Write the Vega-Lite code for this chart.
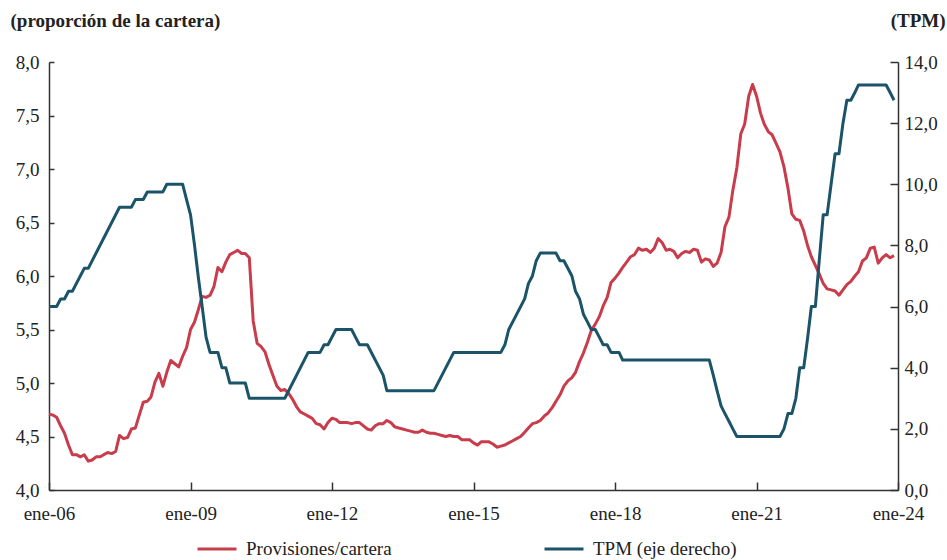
{
"$schema": "https://vega.github.io/schema/vega-lite/v6.json",
"width": 849, "height": 428,
"autosize": {"type": "none"},
"padding": {"left": 49, "top": 62, "right": 49, "bottom": 70},
"background": "white",
"config": {
 "view": {"stroke": null},
 "font": "Liberation Serif",
 "axis": {"labelFont": "Liberation Serif", "labelFontSize": 19, "labelColor": "#222", "titleFont": "Liberation Serif", "titleFontSize": 19, "titleFontWeight": "bold", "titleColor": "#222", "domainColor": "#333", "domainWidth": 1.5, "tickColor": "#333", "tickWidth": 1.5, "grid": false},
 "legend": {"labelFont": "Liberation Serif", "labelFontSize": 19, "labelColor": "#222"}
},
"datasets": {
"prov": [
{"fecha":"2006-01-01","valor":4.71,"serie":"Provisiones/cartera"},{"fecha":"2006-02-01","valor":4.70,"serie":"Provisiones/cartera"},{"fecha":"2006-03-01","valor":4.68,"serie":"Provisiones/cartera"},{"fecha":"2006-04-01","valor":4.60,"serie":"Provisiones/cartera"},{"fecha":"2006-05-01","valor":4.53,"serie":"Provisiones/cartera"},{"fecha":"2006-06-01","valor":4.42,"serie":"Provisiones/cartera"},{"fecha":"2006-07-01","valor":4.33,"serie":"Provisiones/cartera"},{"fecha":"2006-08-01","valor":4.33,"serie":"Provisiones/cartera"},{"fecha":"2006-09-01","valor":4.31,"serie":"Provisiones/cartera"},{"fecha":"2006-10-01","valor":4.33,"serie":"Provisiones/cartera"},{"fecha":"2006-11-01","valor":4.27,"serie":"Provisiones/cartera"},{"fecha":"2006-12-01","valor":4.28,"serie":"Provisiones/cartera"},
{"fecha":"2007-01-01","valor":4.31,"serie":"Provisiones/cartera"},{"fecha":"2007-02-01","valor":4.31,"serie":"Provisiones/cartera"},{"fecha":"2007-03-01","valor":4.33,"serie":"Provisiones/cartera"},{"fecha":"2007-04-01","valor":4.35,"serie":"Provisiones/cartera"},{"fecha":"2007-05-01","valor":4.34,"serie":"Provisiones/cartera"},{"fecha":"2007-06-01","valor":4.36,"serie":"Provisiones/cartera"},{"fecha":"2007-07-01","valor":4.51,"serie":"Provisiones/cartera"},{"fecha":"2007-08-01","valor":4.48,"serie":"Provisiones/cartera"},{"fecha":"2007-09-01","valor":4.49,"serie":"Provisiones/cartera"},{"fecha":"2007-10-01","valor":4.57,"serie":"Provisiones/cartera"},{"fecha":"2007-11-01","valor":4.58,"serie":"Provisiones/cartera"},{"fecha":"2007-12-01","valor":4.70,"serie":"Provisiones/cartera"},
{"fecha":"2008-01-01","valor":4.82,"serie":"Provisiones/cartera"},{"fecha":"2008-02-01","valor":4.83,"serie":"Provisiones/cartera"},{"fecha":"2008-03-01","valor":4.87,"serie":"Provisiones/cartera"},{"fecha":"2008-04-01","valor":5.01,"serie":"Provisiones/cartera"},{"fecha":"2008-05-01","valor":5.09,"serie":"Provisiones/cartera"},{"fecha":"2008-06-01","valor":4.97,"serie":"Provisiones/cartera"},{"fecha":"2008-07-01","valor":5.10,"serie":"Provisiones/cartera"},{"fecha":"2008-08-01","valor":5.21,"serie":"Provisiones/cartera"},{"fecha":"2008-09-01","valor":5.18,"serie":"Provisiones/cartera"},{"fecha":"2008-10-01","valor":5.15,"serie":"Provisiones/cartera"},{"fecha":"2008-11-01","valor":5.25,"serie":"Provisiones/cartera"},{"fecha":"2008-12-01","valor":5.33,"serie":"Provisiones/cartera"},
{"fecha":"2009-01-01","valor":5.50,"serie":"Provisiones/cartera"},{"fecha":"2009-02-01","valor":5.57,"serie":"Provisiones/cartera"},{"fecha":"2009-03-01","valor":5.68,"serie":"Provisiones/cartera"},{"fecha":"2009-04-01","valor":5.81,"serie":"Provisiones/cartera"},{"fecha":"2009-05-01","valor":5.80,"serie":"Provisiones/cartera"},{"fecha":"2009-06-01","valor":5.82,"serie":"Provisiones/cartera"},{"fecha":"2009-07-01","valor":5.90,"serie":"Provisiones/cartera"},{"fecha":"2009-08-01","valor":6.08,"serie":"Provisiones/cartera"},{"fecha":"2009-09-01","valor":6.04,"serie":"Provisiones/cartera"},{"fecha":"2009-10-01","valor":6.13,"serie":"Provisiones/cartera"},{"fecha":"2009-11-01","valor":6.20,"serie":"Provisiones/cartera"},{"fecha":"2009-12-01","valor":6.22,"serie":"Provisiones/cartera"},
{"fecha":"2010-01-01","valor":6.24,"serie":"Provisiones/cartera"},{"fecha":"2010-02-01","valor":6.21,"serie":"Provisiones/cartera"},{"fecha":"2010-03-01","valor":6.21,"serie":"Provisiones/cartera"},{"fecha":"2010-04-01","valor":6.17,"serie":"Provisiones/cartera"},{"fecha":"2010-05-01","valor":5.58,"serie":"Provisiones/cartera"},{"fecha":"2010-06-01","valor":5.37,"serie":"Provisiones/cartera"},{"fecha":"2010-07-01","valor":5.34,"serie":"Provisiones/cartera"},{"fecha":"2010-08-01","valor":5.29,"serie":"Provisiones/cartera"},{"fecha":"2010-09-01","valor":5.17,"serie":"Provisiones/cartera"},{"fecha":"2010-10-01","valor":5.07,"serie":"Provisiones/cartera"},{"fecha":"2010-11-01","valor":4.97,"serie":"Provisiones/cartera"},{"fecha":"2010-12-01","valor":4.93,"serie":"Provisiones/cartera"},
{"fecha":"2011-01-01","valor":4.94,"serie":"Provisiones/cartera"},{"fecha":"2011-02-01","valor":4.90,"serie":"Provisiones/cartera"},{"fecha":"2011-03-01","valor":4.85,"serie":"Provisiones/cartera"},{"fecha":"2011-04-01","valor":4.78,"serie":"Provisiones/cartera"},{"fecha":"2011-05-01","valor":4.73,"serie":"Provisiones/cartera"},{"fecha":"2011-06-01","valor":4.71,"serie":"Provisiones/cartera"},{"fecha":"2011-07-01","valor":4.69,"serie":"Provisiones/cartera"},{"fecha":"2011-08-01","valor":4.67,"serie":"Provisiones/cartera"},{"fecha":"2011-09-01","valor":4.62,"serie":"Provisiones/cartera"},{"fecha":"2011-10-01","valor":4.61,"serie":"Provisiones/cartera"},{"fecha":"2011-11-01","valor":4.57,"serie":"Provisiones/cartera"},{"fecha":"2011-12-01","valor":4.63,"serie":"Provisiones/cartera"},
{"fecha":"2012-01-01","valor":4.67,"serie":"Provisiones/cartera"},{"fecha":"2012-02-01","valor":4.66,"serie":"Provisiones/cartera"},{"fecha":"2012-03-01","valor":4.63,"serie":"Provisiones/cartera"},{"fecha":"2012-04-01","valor":4.63,"serie":"Provisiones/cartera"},{"fecha":"2012-05-01","valor":4.63,"serie":"Provisiones/cartera"},{"fecha":"2012-06-01","valor":4.62,"serie":"Provisiones/cartera"},{"fecha":"2012-07-01","valor":4.63,"serie":"Provisiones/cartera"},{"fecha":"2012-08-01","valor":4.63,"serie":"Provisiones/cartera"},{"fecha":"2012-09-01","valor":4.60,"serie":"Provisiones/cartera"},{"fecha":"2012-10-01","valor":4.57,"serie":"Provisiones/cartera"},{"fecha":"2012-11-01","valor":4.56,"serie":"Provisiones/cartera"},{"fecha":"2012-12-01","valor":4.60,"serie":"Provisiones/cartera"},
{"fecha":"2013-01-01","valor":4.62,"serie":"Provisiones/cartera"},{"fecha":"2013-02-01","valor":4.62,"serie":"Provisiones/cartera"},{"fecha":"2013-03-01","valor":4.65,"serie":"Provisiones/cartera"},{"fecha":"2013-04-01","valor":4.63,"serie":"Provisiones/cartera"},{"fecha":"2013-05-01","valor":4.59,"serie":"Provisiones/cartera"},{"fecha":"2013-06-01","valor":4.58,"serie":"Provisiones/cartera"},{"fecha":"2013-07-01","valor":4.57,"serie":"Provisiones/cartera"},{"fecha":"2013-08-01","valor":4.56,"serie":"Provisiones/cartera"},{"fecha":"2013-09-01","valor":4.55,"serie":"Provisiones/cartera"},{"fecha":"2013-10-01","valor":4.54,"serie":"Provisiones/cartera"},{"fecha":"2013-11-01","valor":4.54,"serie":"Provisiones/cartera"},{"fecha":"2013-12-01","valor":4.56,"serie":"Provisiones/cartera"},
{"fecha":"2014-01-01","valor":4.54,"serie":"Provisiones/cartera"},{"fecha":"2014-02-01","valor":4.53,"serie":"Provisiones/cartera"},{"fecha":"2014-03-01","valor":4.53,"serie":"Provisiones/cartera"},{"fecha":"2014-04-01","valor":4.52,"serie":"Provisiones/cartera"},{"fecha":"2014-05-01","valor":4.51,"serie":"Provisiones/cartera"},{"fecha":"2014-06-01","valor":4.50,"serie":"Provisiones/cartera"},{"fecha":"2014-07-01","valor":4.51,"serie":"Provisiones/cartera"},{"fecha":"2014-08-01","valor":4.50,"serie":"Provisiones/cartera"},{"fecha":"2014-09-01","valor":4.50,"serie":"Provisiones/cartera"},{"fecha":"2014-10-01","valor":4.47,"serie":"Provisiones/cartera"},{"fecha":"2014-11-01","valor":4.47,"serie":"Provisiones/cartera"},{"fecha":"2014-12-01","valor":4.47,"serie":"Provisiones/cartera"},
{"fecha":"2015-01-01","valor":4.44,"serie":"Provisiones/cartera"},{"fecha":"2015-02-01","valor":4.42,"serie":"Provisiones/cartera"},{"fecha":"2015-03-01","valor":4.45,"serie":"Provisiones/cartera"},{"fecha":"2015-04-01","valor":4.45,"serie":"Provisiones/cartera"},{"fecha":"2015-05-01","valor":4.45,"serie":"Provisiones/cartera"},{"fecha":"2015-06-01","valor":4.43,"serie":"Provisiones/cartera"},{"fecha":"2015-07-01","valor":4.40,"serie":"Provisiones/cartera"},{"fecha":"2015-08-01","valor":4.41,"serie":"Provisiones/cartera"},{"fecha":"2015-09-01","valor":4.42,"serie":"Provisiones/cartera"},{"fecha":"2015-10-01","valor":4.44,"serie":"Provisiones/cartera"},{"fecha":"2015-11-01","valor":4.46,"serie":"Provisiones/cartera"},{"fecha":"2015-12-01","valor":4.48,"serie":"Provisiones/cartera"},
{"fecha":"2016-01-01","valor":4.50,"serie":"Provisiones/cartera"},{"fecha":"2016-02-01","valor":4.54,"serie":"Provisiones/cartera"},{"fecha":"2016-03-01","valor":4.58,"serie":"Provisiones/cartera"},{"fecha":"2016-04-01","valor":4.62,"serie":"Provisiones/cartera"},{"fecha":"2016-05-01","valor":4.63,"serie":"Provisiones/cartera"},{"fecha":"2016-06-01","valor":4.65,"serie":"Provisiones/cartera"},{"fecha":"2016-07-01","valor":4.69,"serie":"Provisiones/cartera"},{"fecha":"2016-08-01","valor":4.72,"serie":"Provisiones/cartera"},{"fecha":"2016-09-01","valor":4.77,"serie":"Provisiones/cartera"},{"fecha":"2016-10-01","valor":4.83,"serie":"Provisiones/cartera"},{"fecha":"2016-11-01","valor":4.89,"serie":"Provisiones/cartera"},{"fecha":"2016-12-01","valor":4.97,"serie":"Provisiones/cartera"},
{"fecha":"2017-01-01","valor":5.02,"serie":"Provisiones/cartera"},{"fecha":"2017-02-01","valor":5.05,"serie":"Provisiones/cartera"},{"fecha":"2017-03-01","valor":5.10,"serie":"Provisiones/cartera"},{"fecha":"2017-04-01","valor":5.20,"serie":"Provisiones/cartera"},{"fecha":"2017-05-01","valor":5.28,"serie":"Provisiones/cartera"},{"fecha":"2017-06-01","valor":5.38,"serie":"Provisiones/cartera"},{"fecha":"2017-07-01","valor":5.49,"serie":"Provisiones/cartera"},{"fecha":"2017-08-01","valor":5.55,"serie":"Provisiones/cartera"},{"fecha":"2017-09-01","valor":5.62,"serie":"Provisiones/cartera"},{"fecha":"2017-10-01","valor":5.72,"serie":"Provisiones/cartera"},{"fecha":"2017-11-01","valor":5.80,"serie":"Provisiones/cartera"},{"fecha":"2017-12-01","valor":5.94,"serie":"Provisiones/cartera"},
{"fecha":"2018-01-01","valor":5.98,"serie":"Provisiones/cartera"},{"fecha":"2018-02-01","valor":6.03,"serie":"Provisiones/cartera"},{"fecha":"2018-03-01","valor":6.08,"serie":"Provisiones/cartera"},{"fecha":"2018-04-01","valor":6.13,"serie":"Provisiones/cartera"},{"fecha":"2018-05-01","valor":6.18,"serie":"Provisiones/cartera"},{"fecha":"2018-06-01","valor":6.20,"serie":"Provisiones/cartera"},{"fecha":"2018-07-01","valor":6.26,"serie":"Provisiones/cartera"},{"fecha":"2018-08-01","valor":6.24,"serie":"Provisiones/cartera"},{"fecha":"2018-09-01","valor":6.25,"serie":"Provisiones/cartera"},{"fecha":"2018-10-01","valor":6.22,"serie":"Provisiones/cartera"},{"fecha":"2018-11-01","valor":6.26,"serie":"Provisiones/cartera"},{"fecha":"2018-12-01","valor":6.35,"serie":"Provisiones/cartera"},
{"fecha":"2019-01-01","valor":6.31,"serie":"Provisiones/cartera"},{"fecha":"2019-02-01","valor":6.24,"serie":"Provisiones/cartera"},{"fecha":"2019-03-01","valor":6.25,"serie":"Provisiones/cartera"},{"fecha":"2019-04-01","valor":6.23,"serie":"Provisiones/cartera"},{"fecha":"2019-05-01","valor":6.17,"serie":"Provisiones/cartera"},{"fecha":"2019-06-01","valor":6.21,"serie":"Provisiones/cartera"},{"fecha":"2019-07-01","valor":6.23,"serie":"Provisiones/cartera"},{"fecha":"2019-08-01","valor":6.22,"serie":"Provisiones/cartera"},{"fecha":"2019-09-01","valor":6.25,"serie":"Provisiones/cartera"},{"fecha":"2019-10-01","valor":6.24,"serie":"Provisiones/cartera"},{"fecha":"2019-11-01","valor":6.13,"serie":"Provisiones/cartera"},{"fecha":"2019-12-01","valor":6.16,"serie":"Provisiones/cartera"},
{"fecha":"2020-01-01","valor":6.15,"serie":"Provisiones/cartera"},{"fecha":"2020-02-01","valor":6.09,"serie":"Provisiones/cartera"},{"fecha":"2020-03-01","valor":6.12,"serie":"Provisiones/cartera"},{"fecha":"2020-04-01","valor":6.22,"serie":"Provisiones/cartera"},{"fecha":"2020-05-01","valor":6.46,"serie":"Provisiones/cartera"},{"fecha":"2020-06-01","valor":6.55,"serie":"Provisiones/cartera"},{"fecha":"2020-07-01","valor":6.80,"serie":"Provisiones/cartera"},{"fecha":"2020-08-01","valor":7.01,"serie":"Provisiones/cartera"},{"fecha":"2020-09-01","valor":7.33,"serie":"Provisiones/cartera"},{"fecha":"2020-10-01","valor":7.42,"serie":"Provisiones/cartera"},{"fecha":"2020-11-01","valor":7.68,"serie":"Provisiones/cartera"},{"fecha":"2020-12-01","valor":7.79,"serie":"Provisiones/cartera"},
{"fecha":"2021-01-01","valor":7.68,"serie":"Provisiones/cartera"},{"fecha":"2021-02-01","valor":7.52,"serie":"Provisiones/cartera"},{"fecha":"2021-03-01","valor":7.42,"serie":"Provisiones/cartera"},{"fecha":"2021-04-01","valor":7.35,"serie":"Provisiones/cartera"},{"fecha":"2021-05-01","valor":7.32,"serie":"Provisiones/cartera"},{"fecha":"2021-06-01","valor":7.24,"serie":"Provisiones/cartera"},{"fecha":"2021-07-01","valor":7.16,"serie":"Provisiones/cartera"},{"fecha":"2021-08-01","valor":7.02,"serie":"Provisiones/cartera"},{"fecha":"2021-09-01","valor":6.82,"serie":"Provisiones/cartera"},{"fecha":"2021-10-01","valor":6.58,"serie":"Provisiones/cartera"},{"fecha":"2021-11-01","valor":6.53,"serie":"Provisiones/cartera"},{"fecha":"2021-12-01","valor":6.52,"serie":"Provisiones/cartera"},
{"fecha":"2022-01-01","valor":6.42,"serie":"Provisiones/cartera"},{"fecha":"2022-02-01","valor":6.28,"serie":"Provisiones/cartera"},{"fecha":"2022-03-01","valor":6.18,"serie":"Provisiones/cartera"},{"fecha":"2022-04-01","valor":6.10,"serie":"Provisiones/cartera"},{"fecha":"2022-05-01","valor":6.02,"serie":"Provisiones/cartera"},{"fecha":"2022-06-01","valor":5.93,"serie":"Provisiones/cartera"},{"fecha":"2022-07-01","valor":5.88,"serie":"Provisiones/cartera"},{"fecha":"2022-08-01","valor":5.87,"serie":"Provisiones/cartera"},{"fecha":"2022-09-01","valor":5.86,"serie":"Provisiones/cartera"},{"fecha":"2022-10-01","valor":5.82,"serie":"Provisiones/cartera"},{"fecha":"2022-11-01","valor":5.87,"serie":"Provisiones/cartera"},{"fecha":"2022-12-01","valor":5.92,"serie":"Provisiones/cartera"},
{"fecha":"2023-01-01","valor":5.95,"serie":"Provisiones/cartera"},{"fecha":"2023-02-01","valor":6.00,"serie":"Provisiones/cartera"},{"fecha":"2023-03-01","valor":6.04,"serie":"Provisiones/cartera"},{"fecha":"2023-04-01","valor":6.14,"serie":"Provisiones/cartera"},{"fecha":"2023-05-01","valor":6.17,"serie":"Provisiones/cartera"},{"fecha":"2023-06-01","valor":6.26,"serie":"Provisiones/cartera"},{"fecha":"2023-07-01","valor":6.27,"serie":"Provisiones/cartera"},{"fecha":"2023-08-01","valor":6.12,"serie":"Provisiones/cartera"},{"fecha":"2023-09-01","valor":6.17,"serie":"Provisiones/cartera"},{"fecha":"2023-10-01","valor":6.20,"serie":"Provisiones/cartera"},{"fecha":"2023-11-01","valor":6.17,"serie":"Provisiones/cartera"},{"fecha":"2023-12-01","valor":6.19,"serie":"Provisiones/cartera"}
],
"tpm": [
{"fecha":"2006-01-01","valor":6.0,"serie":"TPM (eje derecho)"},{"fecha":"2006-03-01","valor":6.0,"serie":"TPM (eje derecho)"},{"fecha":"2006-04-01","valor":6.25,"serie":"TPM (eje derecho)"},{"fecha":"2006-05-01","valor":6.25,"serie":"TPM (eje derecho)"},{"fecha":"2006-06-01","valor":6.5,"serie":"TPM (eje derecho)"},{"fecha":"2006-07-01","valor":6.5,"serie":"TPM (eje derecho)"},{"fecha":"2006-10-01","valor":7.25,"serie":"TPM (eje derecho)"},{"fecha":"2006-11-01","valor":7.25,"serie":"TPM (eje derecho)"},
{"fecha":"2007-07-01","valor":9.25,"serie":"TPM (eje derecho)"},{"fecha":"2007-10-01","valor":9.25,"serie":"TPM (eje derecho)"},{"fecha":"2007-11-01","valor":9.5,"serie":"TPM (eje derecho)"},{"fecha":"2008-01-01","valor":9.5,"serie":"TPM (eje derecho)"},{"fecha":"2008-02-01","valor":9.75,"serie":"TPM (eje derecho)"},{"fecha":"2008-06-01","valor":9.75,"serie":"TPM (eje derecho)"},{"fecha":"2008-07-01","valor":10.0,"serie":"TPM (eje derecho)"},{"fecha":"2008-11-01","valor":10.0,"serie":"TPM (eje derecho)"},{"fecha":"2008-12-01","valor":9.5,"serie":"TPM (eje derecho)"},
{"fecha":"2009-01-01","valor":9.0,"serie":"TPM (eje derecho)"},{"fecha":"2009-02-01","valor":8.0,"serie":"TPM (eje derecho)"},{"fecha":"2009-03-01","valor":7.0,"serie":"TPM (eje derecho)"},{"fecha":"2009-04-01","valor":6.0,"serie":"TPM (eje derecho)"},{"fecha":"2009-05-01","valor":5.0,"serie":"TPM (eje derecho)"},{"fecha":"2009-06-01","valor":4.5,"serie":"TPM (eje derecho)"},{"fecha":"2009-08-01","valor":4.5,"serie":"TPM (eje derecho)"},{"fecha":"2009-09-01","valor":4.0,"serie":"TPM (eje derecho)"},{"fecha":"2009-10-01","valor":4.0,"serie":"TPM (eje derecho)"},{"fecha":"2009-11-01","valor":3.5,"serie":"TPM (eje derecho)"},{"fecha":"2010-03-01","valor":3.5,"serie":"TPM (eje derecho)"},{"fecha":"2010-04-01","valor":3.0,"serie":"TPM (eje derecho)"},
{"fecha":"2011-01-01","valor":3.0,"serie":"TPM (eje derecho)"},{"fecha":"2011-07-01","valor":4.5,"serie":"TPM (eje derecho)"},{"fecha":"2011-10-01","valor":4.5,"serie":"TPM (eje derecho)"},{"fecha":"2011-11-01","valor":4.75,"serie":"TPM (eje derecho)"},{"fecha":"2011-12-01","valor":4.75,"serie":"TPM (eje derecho)"},{"fecha":"2012-02-01","valor":5.25,"serie":"TPM (eje derecho)"},{"fecha":"2012-06-01","valor":5.25,"serie":"TPM (eje derecho)"},{"fecha":"2012-07-01","valor":5.0,"serie":"TPM (eje derecho)"},{"fecha":"2012-08-01","valor":4.75,"serie":"TPM (eje derecho)"},{"fecha":"2012-10-01","valor":4.75,"serie":"TPM (eje derecho)"},{"fecha":"2013-02-01","valor":3.75,"serie":"TPM (eje derecho)"},{"fecha":"2013-03-01","valor":3.25,"serie":"TPM (eje derecho)"},
{"fecha":"2014-03-01","valor":3.25,"serie":"TPM (eje derecho)"},{"fecha":"2014-08-01","valor":4.5,"serie":"TPM (eje derecho)"},{"fecha":"2015-08-01","valor":4.5,"serie":"TPM (eje derecho)"},{"fecha":"2015-09-01","valor":4.75,"serie":"TPM (eje derecho)"},{"fecha":"2015-10-01","valor":5.25,"serie":"TPM (eje derecho)"},{"fecha":"2016-02-01","valor":6.25,"serie":"TPM (eje derecho)"},{"fecha":"2016-03-01","valor":6.75,"serie":"TPM (eje derecho)"},{"fecha":"2016-04-01","valor":7.0,"serie":"TPM (eje derecho)"},{"fecha":"2016-05-01","valor":7.5,"serie":"TPM (eje derecho)"},{"fecha":"2016-06-01","valor":7.75,"serie":"TPM (eje derecho)"},{"fecha":"2016-10-01","valor":7.75,"serie":"TPM (eje derecho)"},{"fecha":"2016-11-01","valor":7.5,"serie":"TPM (eje derecho)"},{"fecha":"2016-12-01","valor":7.5,"serie":"TPM (eje derecho)"},
{"fecha":"2017-02-01","valor":7.0,"serie":"TPM (eje derecho)"},{"fecha":"2017-03-01","valor":6.5,"serie":"TPM (eje derecho)"},{"fecha":"2017-04-01","valor":6.25,"serie":"TPM (eje derecho)"},{"fecha":"2017-05-01","valor":5.75,"serie":"TPM (eje derecho)"},{"fecha":"2017-06-01","valor":5.5,"serie":"TPM (eje derecho)"},{"fecha":"2017-07-01","valor":5.25,"serie":"TPM (eje derecho)"},{"fecha":"2017-08-01","valor":5.25,"serie":"TPM (eje derecho)"},{"fecha":"2017-09-01","valor":5.0,"serie":"TPM (eje derecho)"},{"fecha":"2017-10-01","valor":4.75,"serie":"TPM (eje derecho)"},{"fecha":"2017-11-01","valor":4.75,"serie":"TPM (eje derecho)"},{"fecha":"2017-12-01","valor":4.5,"serie":"TPM (eje derecho)"},{"fecha":"2018-02-01","valor":4.5,"serie":"TPM (eje derecho)"},{"fecha":"2018-03-01","valor":4.25,"serie":"TPM (eje derecho)"},
{"fecha":"2020-01-01","valor":4.25,"serie":"TPM (eje derecho)"},{"fecha":"2020-02-01","valor":3.75,"serie":"TPM (eje derecho)"},{"fecha":"2020-03-01","valor":3.25,"serie":"TPM (eje derecho)"},{"fecha":"2020-04-01","valor":2.75,"serie":"TPM (eje derecho)"},{"fecha":"2020-05-01","valor":2.5,"serie":"TPM (eje derecho)"},{"fecha":"2020-06-01","valor":2.25,"serie":"TPM (eje derecho)"},{"fecha":"2020-07-01","valor":2.0,"serie":"TPM (eje derecho)"},{"fecha":"2020-08-01","valor":1.75,"serie":"TPM (eje derecho)"},
{"fecha":"2021-07-01","valor":1.75,"serie":"TPM (eje derecho)"},{"fecha":"2021-08-01","valor":2.0,"serie":"TPM (eje derecho)"},{"fecha":"2021-09-01","valor":2.5,"serie":"TPM (eje derecho)"},{"fecha":"2021-10-01","valor":2.5,"serie":"TPM (eje derecho)"},{"fecha":"2021-11-01","valor":3.0,"serie":"TPM (eje derecho)"},{"fecha":"2021-12-01","valor":4.0,"serie":"TPM (eje derecho)"},{"fecha":"2022-01-01","valor":4.0,"serie":"TPM (eje derecho)"},{"fecha":"2022-02-01","valor":5.0,"serie":"TPM (eje derecho)"},{"fecha":"2022-03-01","valor":6.0,"serie":"TPM (eje derecho)"},{"fecha":"2022-04-01","valor":6.0,"serie":"TPM (eje derecho)"},{"fecha":"2022-05-01","valor":7.5,"serie":"TPM (eje derecho)"},{"fecha":"2022-06-01","valor":9.0,"serie":"TPM (eje derecho)"},{"fecha":"2022-07-01","valor":9.0,"serie":"TPM (eje derecho)"},{"fecha":"2022-08-01","valor":10.0,"serie":"TPM (eje derecho)"},{"fecha":"2022-09-01","valor":11.0,"serie":"TPM (eje derecho)"},{"fecha":"2022-10-01","valor":11.0,"serie":"TPM (eje derecho)"},{"fecha":"2022-11-01","valor":12.0,"serie":"TPM (eje derecho)"},{"fecha":"2022-12-01","valor":12.75,"serie":"TPM (eje derecho)"},
{"fecha":"2023-01-01","valor":12.75,"serie":"TPM (eje derecho)"},{"fecha":"2023-02-01","valor":13.0,"serie":"TPM (eje derecho)"},{"fecha":"2023-03-01","valor":13.25,"serie":"TPM (eje derecho)"},{"fecha":"2023-10-01","valor":13.25,"serie":"TPM (eje derecho)"},{"fecha":"2023-11-01","valor":13.0,"serie":"TPM (eje derecho)"},{"fecha":"2023-12-01","valor":12.75,"serie":"TPM (eje derecho)"}
]
},
"layer": [
 {
  "data": {"name": "prov"},
  "mark": {"type": "line", "strokeWidth": 3, "strokeJoin": "round"},
  "encoding": {
   "x": {"field": "fecha", "type": "temporal",
     "scale": {"type": "utc", "domain": [{"year": 2006, "month": 1, "date": 1, "utc": true}, {"year": 2024, "month": 1, "date": 1, "utc": true}]},
     "axis": {"title": null, "values": [{"year": 2006, "month": 1, "date": 1, "utc": true}, {"year": 2009, "month": 1, "date": 1, "utc": true}, {"year": 2012, "month": 1, "date": 1, "utc": true}, {"year": 2015, "month": 1, "date": 1, "utc": true}, {"year": 2018, "month": 1, "date": 1, "utc": true}, {"year": 2021, "month": 1, "date": 1, "utc": true}, {"year": 2024, "month": 1, "date": 1, "utc": true}],
       "labelExpr": "'ene-' + utcFormat(datum.value, '%y')", "tickSize": -8, "labelPadding": 22, "labelFlush": false, "labelOverlap": false, "labelBound": false}},
   "y": {"field": "valor", "type": "quantitative",
     "scale": {"domain": [4, 8], "nice": false, "zero": false},
     "axis": {"orient": "left", "values": [4, 4.5, 5, 5.5, 6, 6.5, 7, 7.5, 8], "labelExpr": "replace(format(datum.value, '.1f'), '.', ',')",
       "title": "(proporción de la cartera)", "titleAngle": 0, "titleAlign": "left", "titleBaseline": "alphabetic", "titleX": -39, "titleY": -36,
       "tickSize": -5, "labelPadding": 15, "labelFlush": false, "labelOverlap": false}},
   "color": {"field": "serie", "type": "nominal",
     "scale": {"domain": ["Provisiones/cartera", "TPM (eje derecho)"], "range": ["#C83C4B", "#1B5468"]},
     "legend": {"orient": "none", "legendX": 147, "legendY": 466, "direction": "horizontal", "title": null, "symbolType": "stroke", "symbolSize": 1521, "symbolStrokeWidth": 3, "labelOffset": 8, "columnPadding": 146, "labelLimit": 400}}
  }
 },
 {
  "data": {"name": "tpm"},
  "mark": {"type": "line", "strokeWidth": 3, "strokeJoin": "round"},
  "encoding": {
   "x": {"field": "fecha", "type": "temporal"},
   "y": {"field": "valor", "type": "quantitative",
     "scale": {"domain": [0, 14], "nice": false},
     "axis": {"orient": "right", "values": [0, 2, 4, 6, 8, 10, 12, 14], "labelExpr": "replace(format(datum.value, '.1f'), '.', ',')",
       "title": "(TPM)", "titleAngle": 0, "titleAlign": "right", "titleBaseline": "alphabetic", "titleX": 47, "titleY": -36,
       "tickSize": -8, "labelPadding": 14, "labelFlush": false, "labelOverlap": false}},
   "color": {"field": "serie", "type": "nominal"}
  }
 }
],
"resolve": {"scale": {"y": "independent"}}
}
